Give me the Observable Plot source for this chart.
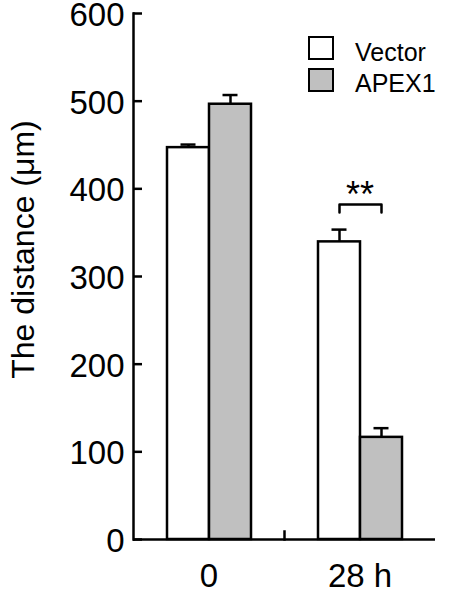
<!DOCTYPE html>
<html><head><meta charset="utf-8">
<script src="https://cdn.jsdelivr.net/npm/d3@7"></script>
<script src="https://cdn.jsdelivr.net/npm/@observablehq/plot@0.6"></script>
<style>
body{margin:0;background:#fff;font-family:"Liberation Sans",Arial,sans-serif;}
#wrap{position:relative;width:450px;height:592px;}
.sw{position:absolute;box-sizing:border-box;width:26px;height:24px;border:2.5px solid #000;}
.lt{position:absolute;font-size:25px;line-height:25px;color:#000;white-space:nowrap;}
</style></head><body><div id="wrap"></div>
<script>
const times = ["0", "28 h"];
const groups = ["Vector", "APEX1"];
const vectorMean = [447, 339.5];
const vectorSE = [3.5, 14];
const apexMean = [496.5, 116.5];
const apexSE = [10.5, 10.5];
const fills = ["#ffffff", "#c0c0c0"];
const yTicks = [0, 100, 200, 300, 400, 500, 600];
const yLabel = "The distance (μm)";
const sigTime = "28 h";
const sigText = "**";
const sigStarY = 393;
const sigBracketGroups = ["Vector", "Vector", "APEX1", "APEX1"];
const sigBracketY = [373, 382, 382, 373];

const rows = [];
times.forEach((t, i) => {
  rows.push({time: t, group: "Vector", mean: vectorMean[i], hi: vectorMean[i] + vectorSE[i]});
  rows.push({time: t, group: "APEX1", mean: apexMean[i], hi: apexMean[i] + apexSE[i]});
});
const bracket = sigBracketGroups.map((g, i) => ({time: sigTime, group: g, y: sigBracketY[i]}));
const stars = [{time: sigTime, y: sigStarY, text: sigText}];

const plot = Plot.plot({
  width: 450, height: 592,
  marginLeft: 133, marginRight: 15, marginTop: 13, marginBottom: 53,
  style: {fontFamily: "'Liberation Sans', Arial, sans-serif", fontSize: "29px", color: "#000", background: "transparent", overflow: "visible"},
  fx: {domain: times, padding: 0, label: null},
  x: {domain: groups, paddingInner: 0, paddingOuter: 0.756, axis: null},
  y: {domain: [0, 600], axis: null},
  color: {domain: groups, range: fills},
  marks: [
    Plot.barY(rows, {fx: "time", x: "group", y: "mean", fill: "group", stroke: "#000", strokeWidth: 2.5}),
    Plot.ruleX(rows, {fx: "time", x: "group", y1: "mean", y2: "hi", stroke: "#000", strokeWidth: 2.5}),
    Plot.tickY(rows, {fx: "time", x: "group", y: "hi", stroke: "#000", strokeWidth: 2.5, insetLeft: 13.5, insetRight: 13.5}),
    Plot.ruleY([0], {stroke: "#000", strokeWidth: 2.5}),
    Plot.frame({anchor: "left", facetAnchor: "left", stroke: "#000", strokeWidth: 2.5}),
    Plot.frame({anchor: "right", facetAnchor: "left", stroke: "#000", strokeWidth: 2.5, insetTop: 518}),
    Plot.axisY({ticks: yTicks, tickSize: -9, text: null, stroke: "#000", strokeWidth: 2.5, label: null}),
    Plot.axisY({ticks: yTicks, tickSize: 0, tickPadding: 9, dy: 2, fontSize: "33px", label: null}),
    Plot.text([yLabel], {frameAnchor: "left", facetAnchor: "left", textAnchor: "middle", rotate: -90, dx: -110, dy: -27, fontSize: "32px"}),
    Plot.axisFx({anchor: "bottom", tickSize: 0, tickPadding: 24, fontSize: "33px", label: null}),
    Plot.line(bracket, {fx: "time", x: "group", y: "y", stroke: "#000", strokeWidth: 2.5}),
    Plot.text(stars, {fx: "time", y: "y", text: "text", frameAnchor: "middle", fontSize: "36px"})
  ]
});
const wrap = document.getElementById("wrap");
wrap.appendChild(plot);

groups.forEach((g, i) => {
  const sw = document.createElement("div");
  sw.className = "sw";
  sw.style.left = "308px";
  sw.style.top = (36 + i * 32) + "px";
  sw.style.background = fills[i];
  wrap.appendChild(sw);
  const lt = document.createElement("div");
  lt.className = "lt";
  lt.style.left = "355px";
  lt.style.top = (40 + i * 31) + "px";
  lt.textContent = g;
  wrap.appendChild(lt);
});
</script></body></html>
